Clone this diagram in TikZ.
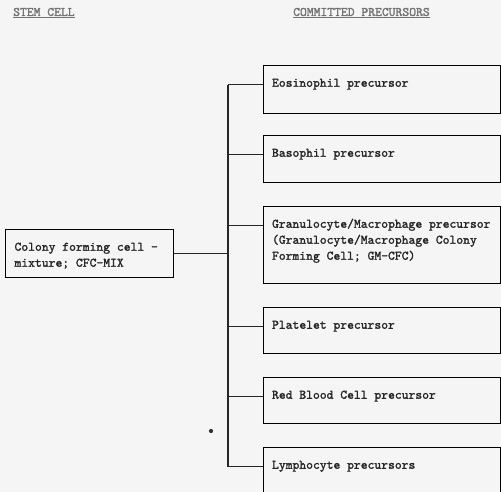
\documentclass[tikz,border=0pt]{standalone}
\usepackage{fontspec}
\newfontfamily\tyfont{lmmono10-regular.otf}[FakeBold=1.6]
\newcommand{\precfont}{\tyfont\fontsize{13}{16}\selectfont\color{black!85}}
\newcommand{\headfont}{\tyfont\fontsize{13}{14}\selectfont\color{black!55}}

\begin{document}
\begin{tikzpicture}[x=1pt,y=-1pt,
    precbox/.style={draw,line width=1.1pt,anchor=north west,minimum width=237pt,
        inner xsep=8pt,inner ysep=10pt,font=\precfont},
    stembox/.style={precbox,minimum width=168pt,inner xsep=7pt},
    head/.style={anchor=west,inner sep=0pt,font=\headfont},
    link/.style={line width=1.2pt,black!85}]

\fill[black!4] (0,0) rectangle (501,492);
\useasboundingbox (0,0) rectangle (501,492);
\clip (0,0) rectangle (501,492);

% headings
\node[head] (stem) at (13,13) {\underline{STEM CELL}};
\node[head] (comm) at (293,13) {\underline{COMMITTED PRECURSORS}};

% stem cell
\node[stembox] (cfc) at (5,229) {\parbox[t][28pt][t]{150pt}{\raggedright\strut
    Colony forming cell -\\ mixture; CFC-MIX}};

% committed precursors
\node[precbox] (eos) at (263,65) {\parbox[t][28pt][t]{220pt}{\raggedright\strut
    Eosinophil precursor}};
\node[precbox] (baso) at (263,135) {\parbox[t][27pt][t]{220pt}{\raggedright\strut
    Basophil precursor}};
\node[precbox] (gran) at (263,206) {\parbox[t][57pt][t]{220pt}{\raggedright\strut
    Granulocyte/Macrophage precursor\\ (Granulocyte/Macrophage Colony\\
    Forming Cell; GM-CFC)}};
\node[precbox] (plat) at (263,307) {\parbox[t][26pt][t]{220pt}{\raggedright\strut
    Platelet precursor}};
\node[precbox] (red) at (263,377) {\parbox[t][26pt][t]{220pt}{\raggedright\strut
    Red Blood Cell precursor}};
\node[precbox] (lym) at (263,447) {\parbox[t][27pt][t]{220pt}{\raggedright\strut
    Lymphocyte precursors}};

\node[circle,fill=black!80,inner sep=1.5pt] (dot) at (211,431) {};

% connectors
\coordinate (trunk) at (228,0);
\draw[link] (cfc.east) -- (trunk |- cfc.east);
\draw[link] (trunk |- eos.mid west) -- (trunk |- lym.mid west);
\foreach \b in {eos,baso,gran,plat,red,lym}
    \draw[link] (trunk |- \b.mid west) -- (\b.mid west);
\end{tikzpicture}
\end{document}
